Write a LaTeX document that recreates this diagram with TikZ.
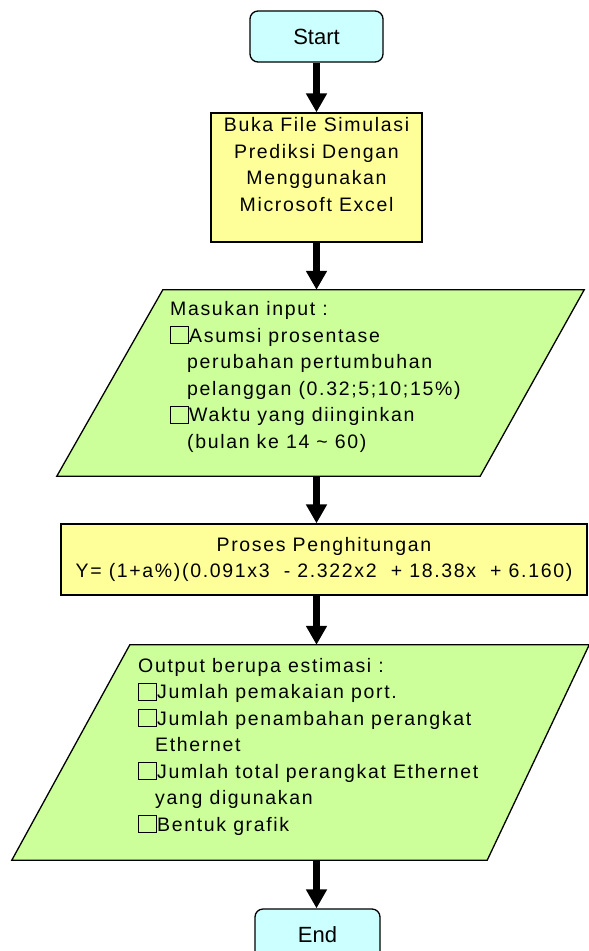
\documentclass[tikz,border=0pt]{standalone}
\usepackage{fontspec}
\setmainfont{Liberation Sans}
\newfontfamily\bodyfam[LetterSpace=8.5]{Liberation Sans}
\usepackage{tikz}
\usetikzlibrary{arrows.meta}
\definecolor{termcyan}{HTML}{CCFFFF}
\definecolor{procyellow}{HTML}{FFFF99}
\definecolor{iogreen}{HTML}{CCFF99}
\newcommand{\bodyfont}{\bodyfam\fontsize{19.5}{26.5}\selectfont}
\newcommand{\chkbox}{\raisebox{-1pt}{\setlength{\fboxsep}{0pt}\setlength{\fboxrule}{1pt}\fbox{\rule{0pt}{16pt}\hspace{17pt}}}}
\newcommand{\indentline}{\hspace*{17pt}}

\begin{document}
\begin{tikzpicture}[x=1pt,y=-1pt,
  term/.style={draw, line width=1.3pt, rounded corners=8pt, fill=termcyan,
    minimum height=51pt, font=\fontsize{22}{26}\selectfont},
  proc/.style={draw, line width=1.3pt, fill=procyellow, align=center, font=\bodyfont},
  ioframe/.style={rectangle, inner sep=0pt},
  iofill/.style={draw, line width=1.3pt, fill=iogreen, line join=miter},
  iotext/.style={anchor=north west, inner sep=0pt, align=left, font=\bodyfont},
  flow/.style={line width=6.5pt, -{Triangle[width=20pt,length=19pt]}}]

\useasboundingbox (0,0) rectangle (589,951);

% Start and first process
\node[term, minimum width=133pt] (start) at (316.5,36.5) {Start};
\node[proc, minimum width=211pt, minimum height=129pt, text depth=26pt] (buka) at (316.5,177.5)
  {Buka File Simulasi\\Prediksi Dengan\\Menggunakan\\Microsoft Excel};

% Input (parallelogram)
\node[ioframe, minimum width=527pt, minimum height=186pt] (masukan) at (320.5,383) {};
\draw[iofill] ([xshift=106pt]masukan.north west) -- (masukan.north east)
  -- ([xshift=-104pt]masukan.south east) -- (masukan.south west) -- cycle;
\node[iotext] (masukantxt) at (170,301.5) {Masukan input :\\
  \chkbox Asumsi prosentase\\
  \indentline perubahan pertumbuhan\\
  \indentline pelanggan (0.32;5;10;15\%)\\
  \chkbox Waktu yang diinginkan\\
  \indentline (bulan ke 14 \textasciitilde\ 60)};

% Calculation
\node[proc, minimum width=526pt, minimum height=71pt] (proses) at (324,559.5)
  {Proses Penghitungan\\Y= (1+a\%)(0.091x3 \ - 2.322x2 \ + 18.38x \ + 6.160)};

% Output (parallelogram)
\node[ioframe, minimum width=577pt, minimum height=215pt] (output) at (300.5,752.5) {};
\draw[iofill] ([xshift=118pt]output.north west) -- (output.north east)
  -- ([xshift=-102pt]output.south east) -- (output.south west) -- cycle;
\node[iotext] (outputtxt) at (138,658) {Output berupa estimasi :\\
  \chkbox Jumlah pemakaian port.\\
  \chkbox Jumlah penambahan perangkat\\
  \indentline Ethernet\\
  \chkbox Jumlah total perangkat Ethernet\\
  \indentline yang digunakan\\
  \chkbox Bentuk grafik};

% End
\node[term, minimum width=125pt] (stop) at (317.5,934.5) {End};

% Arrows
\draw[flow] (start) -- (buka);
\draw[flow] (buka.south) -- (buka.south |- masukan.north);
\draw[flow] (buka.south |- masukan.south) -- (buka.south |- proses.north);
\draw[flow] (buka.south |- proses.south) -- (buka.south |- output.north);
\draw[flow] (buka.south |- output.south) -- (buka.south |- stop.north);

\end{tikzpicture}
\end{document}
